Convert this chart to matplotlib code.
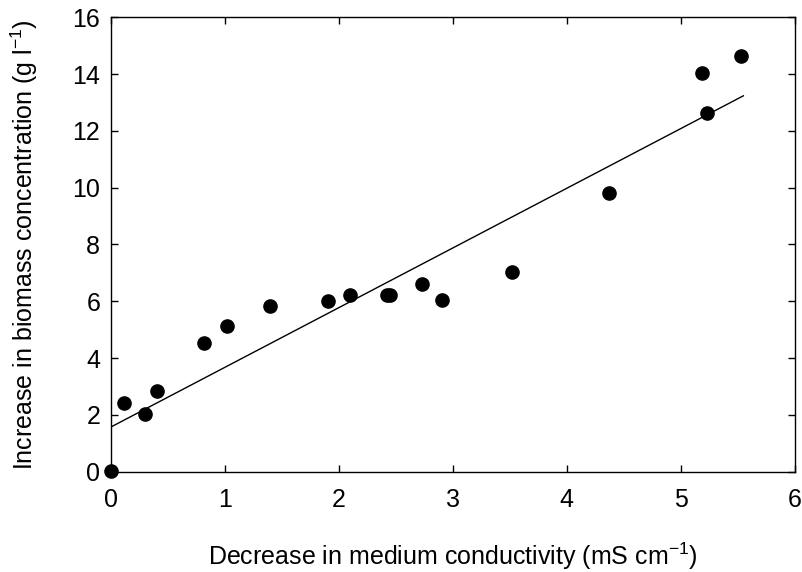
import matplotlib
matplotlib.use("Agg")
import matplotlib.pyplot as plt
import numpy as np

plt.rcParams['font.family'] = ['Liberation Sans', 'DejaVu Sans']
plt.rcParams['mathtext.fontset'] = 'custom'
plt.rcParams['mathtext.rm'] = 'Liberation Sans'
plt.rcParams['mathtext.default'] = 'regular'

conductivity_drop = [0.00, 0.11, 0.30, 0.40, 0.81, 1.02, 1.39, 1.90, 2.10,
                     2.42, 2.45, 2.73, 2.90, 3.52, 4.37, 5.19, 5.23, 5.53]
biomass_gain = [0.03, 2.43, 2.03, 2.84, 4.53, 5.14, 5.83, 6.02, 6.23,
                6.23, 6.23, 6.61, 6.03, 7.04, 9.82, 14.03, 12.64, 14.64]

# Linear fit as drawn
fit_intercept = 1.58
fit_slope = 2.10
fit_range = [0.0, 5.55]

fig = plt.figure(figsize=(8.02, 5.72), dpi=100)
ax = fig.add_axes([0.1388, 0.1754, 0.852, 0.7944])

fit_x = np.array(fit_range)
ax.plot(fit_x, fit_intercept + fit_slope * fit_x, color='black', lw=1.0, zorder=2)
ax.plot(conductivity_drop, biomass_gain, 'o', color='black', markersize=9.5,
        clip_on=False, zorder=3)

ax.set_xlim(0, 6)
ax.set_ylim(0, 16)
ax.set_xticks(range(0, 7))
ax.set_yticks(range(0, 17, 2))

ax.tick_params(direction='in', top=True, right=True, length=5, width=1.0,
               labelsize=18)
ax.tick_params(axis='x', pad=12)
ax.tick_params(axis='y', pad=8)
for side in ax.spines.values():
    side.set_linewidth(1.0)

ax.set_xlabel('Decrease in medium conductivity (mS cm$^{-1}$)', fontsize=18)
ax.set_ylabel('Increase in biomass concentration (g l$^{-1}$)', fontsize=18)
ax.xaxis.set_label_coords(0.5, -0.152)
ax.yaxis.set_label_coords(-0.1043, 0.5)

plt.savefig('out.png', dpi=100)
plt.close()
